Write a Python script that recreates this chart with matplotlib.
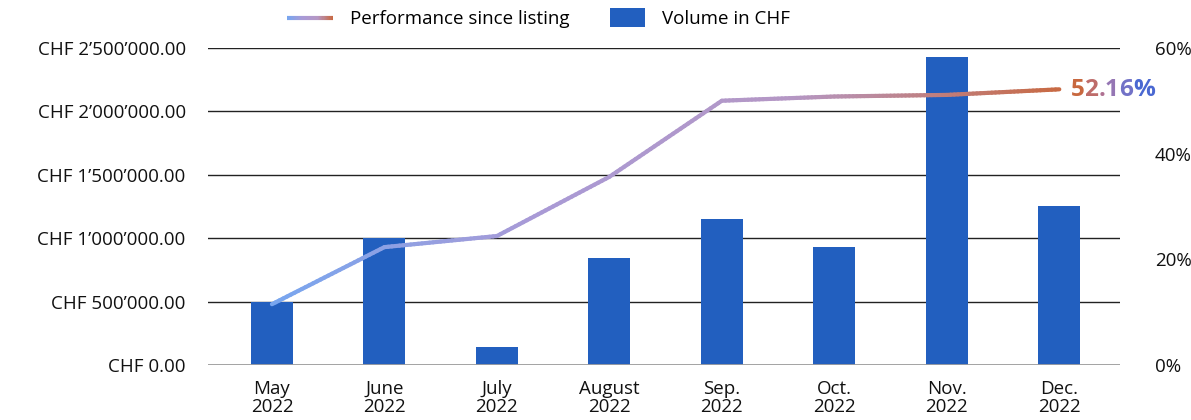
import numpy as np
import matplotlib.pyplot as plt
from matplotlib.collections import LineCollection
from matplotlib.colors import LinearSegmentedColormap
from matplotlib.legend_handler import HandlerBase
import matplotlib.patches as mpatches

plt.rcParams['font.family'] = ['Open Sans', 'DejaVu Sans']

months = ["May\n2022", "June\n2022", "July\n2022", "August\n2022",
          "Sep.\n2022", "Oct.\n2022", "Nov.\n2022", "Dec.\n2022"]
volume = [497000, 1000000, 142000, 845000, 1150000, 930000, 2430000, 1250000]
perf = [11.5, 22.3, 24.4, 35.6, 50.0, 50.8, 51.1, 52.16]

bar_color = "#225fbf"
cmap = LinearSegmentedColormap.from_list("perf", ["#78a6ef", "#a99ad6", "#b597c4", "#c86a44"])
fs = 13.5


def gradient_segments(xs, ys, steps=30):
    # split each segment so the colour can change smoothly along the line
    px, py = [], []
    for i in range(len(xs) - 1):
        t = np.linspace(0, 1, steps, endpoint=False)
        px.extend(xs[i] + (xs[i + 1] - xs[i]) * t)
        py.extend(ys[i] + (ys[i + 1] - ys[i]) * t)
    px.append(xs[-1])
    py.append(ys[-1])
    pts = np.column_stack([px, py]).reshape(-1, 1, 2)
    return np.concatenate([pts[:-1], pts[1:]], axis=1)


class GradientHandler(HandlerBase):
    def create_artists(self, legend, orig_handle, xdescent, ydescent,
                       width, height, fontsize, trans):
        xs = np.linspace(0, width, 40)
        ys = np.full_like(xs, height / 2)
        pts = np.column_stack([xs, ys]).reshape(-1, 1, 2)
        segs = np.concatenate([pts[:-1], pts[1:]], axis=1)
        lc = LineCollection(segs, colors=cmap(np.linspace(0, 1, len(segs))),
                            linewidth=3, transform=trans)
        return [lc]


class BoxHandler(HandlerBase):
    def create_artists(self, legend, orig_handle, xdescent, ydescent,
                       width, height, fontsize, trans):
        w = width * 0.76
        r = mpatches.Rectangle((width - w, -height * 0.2), w, height * 1.4,
                               facecolor=bar_color, transform=trans)
        return [r]


fig = plt.figure(figsize=(11.91, 4.2), dpi=100)
ax = fig.add_axes([0.1746, 0.131, 0.7658, 0.755])
x = np.arange(len(months))

ax.bar(x, volume, width=0.373, color=bar_color, zorder=2)
ax.set_ylim(0, 2500000)
ax.set_xlim(-0.569, 7.54)
ax.set_yticks(np.arange(0, 2500001, 500000))
ax.set_yticklabels(["CHF " + f"{v:,.2f}".replace(",", "\u2019") for v in np.arange(0, 2500001, 500000)])
ax.yaxis.grid(True, color="#222222", linewidth=1)
ax.set_axisbelow(True)
for s in ax.spines.values():
    s.set_visible(False)
ax.tick_params(axis="y", length=0, pad=16, labelsize=fs, colors="#111111")
ax.set_xticks(x)
ax.set_xticklabels(months, fontsize=fs, linespacing=0.95)
ax.tick_params(axis="x", length=0, pad=11, colors="#111111")
ax.axhline(0, color="#a0a0a0", linewidth=2, zorder=3)

ax2 = ax.twinx()
ax2.set_ylim(0, 60)
ax2.set_yticks([0, 20, 40, 60])
ax2.set_yticklabels([f"{v}%" for v in [0, 20, 40, 60]])
ax2.tick_params(axis="y", length=0, pad=25, labelsize=fs, colors="#111111")
for s in ax2.spines.values():
    s.set_visible(False)

segs = gradient_segments(x.astype(float), perf)
lc = LineCollection(segs, colors=cmap(np.linspace(0, 1, len(segs))), linewidth=3,
                    capstyle="round", zorder=4)
ax2.add_collection(lc)

# end label with per-character gradient
label = f"{perf[-1]:.2f}%"
text_cols = LinearSegmentedColormap.from_list("t", ["#c8683f", "#b86f86", "#8c78c0", "#4a68d2"])
t = ax2.text(x[-1] + 0.1, perf[-1] - 0.2, label[0], fontsize=17.5, fontweight="bold",
             color=text_cols(0.0), va="center", ha="left")
for i, ch in enumerate(label[1:], start=1):
    t = ax2.annotate(ch, xy=(1, 0), xycoords=t, fontsize=17.5, fontweight="bold",
                     color=text_cols(i / (len(label) - 1)), va="bottom", ha="left")

line_handle = mpatches.Patch()
bar_handle = mpatches.Patch()
fig.legend([line_handle, bar_handle], ["Performance since listing", "Volume in CHF"],
           handler_map={line_handle: GradientHandler(), bar_handle: BoxHandler()},
           loc="upper left", bbox_to_anchor=(0.241, 0.976), ncol=2, frameon=False,
           borderaxespad=0, borderpad=0,
           fontsize=fs, handlelength=2.45, handletextpad=0.9, columnspacing=1.6)

fig.savefig("out.png", dpi=100)
